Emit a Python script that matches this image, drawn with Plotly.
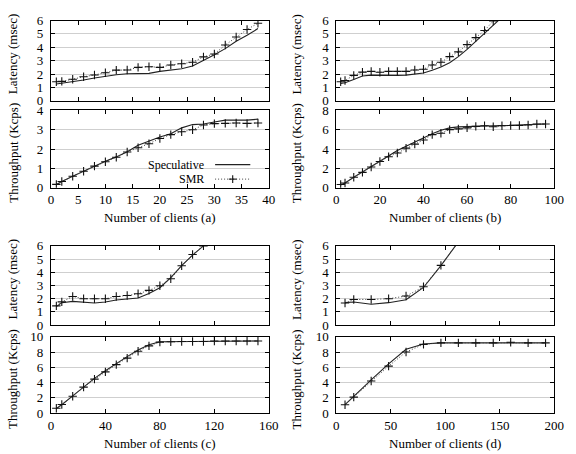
import plotly.graph_objects as go

# ---------------- data ----------------
A_X = [1, 2, 4, 6, 8, 10, 12, 14, 16, 18, 20, 22, 24, 26, 28, 30, 32, 34, 36, 38]
A_LAT_SPEC = [1.25, 1.3, 1.4, 1.55, 1.7, 1.85, 1.95, 2.02, 2.05, 2.05, 2.2, 2.3, 2.4, 2.6, 3.0, 3.45, 3.9, 4.45, 4.9, 5.4]
A_LAT_SMR = [1.42, 1.45, 1.61, 1.8, 1.93, 2.1, 2.29, 2.3, 2.5, 2.55, 2.5, 2.68, 2.77, 2.88, 3.28, 3.5, 4.17, 4.77, 5.33, 5.8]
A_THR_SPEC = [0.17, 0.33, 0.6, 0.87, 1.12, 1.37, 1.6, 1.87, 2.2, 2.43, 2.63, 2.8, 3.1, 3.27, 3.3, 3.4, 3.5, 3.5, 3.5, 3.55]
A_THR_SMR = [0.18, 0.33, 0.6, 0.86, 1.12, 1.35, 1.58, 1.85, 2.07, 2.28, 2.55, 2.75, 2.9, 3.0, 3.25, 3.32, 3.33, 3.35, 3.33, 3.35]

B_X = [2, 4, 8, 12, 16, 20, 24, 28, 32, 36, 40, 44, 48, 52, 56, 60, 64, 68, 72, 76, 80, 84, 88, 92, 96]
B_LAT_X = [2, 4, 8, 12, 16, 20, 24, 28, 32, 36, 40, 44, 48, 52, 56, 60, 64, 68, 72, 76]
B_LAT_SPEC = [1.3, 1.35, 1.6, 1.85, 1.92, 1.9, 1.88, 1.9, 1.92, 1.99, 2.08, 2.28, 2.52, 2.85, 3.3, 3.85, 4.45, 5.05, 5.65, 6.25]
B_LAT_SMR = [1.42, 1.52, 1.9, 2.14, 2.2, 2.13, 2.2, 2.2, 2.2, 2.3, 2.36, 2.68, 2.88, 3.3, 3.66, 4.2, 4.72, 5.25, 5.97, 6.6]
B_THR_SPEC = [0.3, 0.5, 1.1, 1.65, 2.2, 2.8, 3.35, 3.85, 4.3, 4.75, 5.2, 5.6, 5.95, 6.2, 6.3, 6.35, 6.38, 6.4, 6.42, 6.45, 6.48, 6.5, 6.55, 6.58, 6.6]
B_THR_SMR = [0.35, 0.5, 1.1, 1.6, 2.15, 2.72, 3.22, 3.6, 4.1, 4.52, 4.95, 5.5, 5.65, 6.02, 6.1, 6.2, 6.35, 6.42, 6.32, 6.42, 6.45, 6.45, 6.5, 6.6, 6.6]

C_X = [4, 8, 16, 24, 32, 40, 48, 56, 64, 72, 80, 88, 96, 104, 112, 120, 128, 136, 144, 152]
C_LAT_X = [4, 8, 16, 24, 32, 40, 48, 56, 64, 72, 80, 88, 96, 104, 112]
C_LAT_SPEC = [1.4, 1.7, 1.8, 1.75, 1.68, 1.75, 1.9, 1.98, 2.05, 2.4, 2.83, 3.6, 4.5, 5.3, 6.0]
C_LAT_SMR = [1.46, 1.76, 2.17, 2.0, 2.0, 2.0, 2.17, 2.24, 2.37, 2.63, 2.98, 3.51, 4.49, 5.34, 6.0]
C_THR_SPEC = [0.6, 1.1, 2.25, 3.45, 4.55, 5.55, 6.5, 7.4, 8.25, 8.95, 9.35, 9.37, 9.4, 9.4, 9.4, 9.45, 9.45, 9.45, 9.45, 9.45]
C_THR_SMR = [0.63, 1.13, 2.2, 3.4, 4.45, 5.4, 6.35, 7.2, 8.1, 8.8, 9.3, 9.35, 9.37, 9.37, 9.37, 9.45, 9.45, 9.45, 9.45, 9.45]

D_X = [8, 16, 32, 48, 64, 80, 96, 112, 128, 144, 160, 176, 192]
D_LAT_X = [8, 16, 32, 48, 64, 80, 96, 112]
D_LAT_SPEC = [1.7, 1.75, 1.58, 1.7, 1.92, 2.85, 4.5, 6.3]
D_LAT_SMR = [1.67, 1.94, 1.94, 2.0, 2.2, 2.9, 4.52, 6.3]
D_THR_SPEC = [1.1, 2.2, 4.35, 6.45, 8.35, 9.05, 9.2, 9.2, 9.2, 9.2, 9.25, 9.2, 9.2]
D_THR_SMR = [1.1, 2.1, 4.2, 6.15, 8.0, 9.0, 9.2, 9.2, 9.2, 9.2, 9.28, 9.2, 9.2]

PANEL_LABELS = ["a", "b", "c", "d"]
X_RANGES = [(0, 40, 5), (0, 100, 20), (0, 160, 40), (0, 200, 50)]
THR_RANGES = [(0, 4, 1), (0, 8, 2), (0, 10, 2), (0, 10, 2)]
LAT_RANGE = (0, 6, 1)

# ---------------- layout constants ----------------
W, H = 576, 454
FONT = "Times New Roman, Liberation Serif, DejaVu Serif, serif"
XDOM = [[49 / W, 272 / W], [341 / W, 564 / W]]
def ydom(top_px, bot_px):
    return [1 - bot_px / H, 1 - top_px / H]
ROWS = [  # (lat domain, thr domain)
    (ydom(14, 97), ydom(107, 187)),
    (ydom(247, 329), ydom(341, 420)),
]

panels = [
    (A_X, A_X, A_LAT_SPEC, A_LAT_SMR, A_THR_SPEC, A_THR_SMR),
    (B_LAT_X, B_X, B_LAT_SPEC, B_LAT_SMR, B_THR_SPEC, B_THR_SMR),
    (C_LAT_X, C_X, C_LAT_SPEC, C_LAT_SMR, C_THR_SPEC, C_THR_SMR),
    (D_LAT_X, D_X, D_LAT_SPEC, D_LAT_SMR, D_THR_SPEC, D_THR_SMR),
]

fig = go.Figure()
layout = {}
annotations = []

SMR_DASH = "1px,2px"
spec_line = dict(color="#222222", width=1.1)
smr_line = dict(color="#444444", width=1, dash=SMR_DASH)
smr_marker = dict(symbol="cross-thin", size=6, line=dict(color="#111111", width=1.1), color="#111111")

def axis_common():
    return dict(showline=True, linecolor="black", linewidth=1, mirror="allticks",
                ticks="inside", ticklen=4, tickwidth=1, tickcolor="black",
                zeroline=False, tickfont=dict(family=FONT, size=13, color="black"))

for i, (lat_x, thr_x, lat_spec, lat_smr, thr_spec, thr_smr) in enumerate(panels):
    r, c = divmod(i, 2)
    xd = XDOM[c]
    lat_dom, thr_dom = ROWS[r]
    n_lat = 2 * i + 1
    n_thr = 2 * i + 2
    x0, x1, dx = X_RANGES[i]
    t0, t1, dt = THR_RANGES[i]

    for n, dom, (y0, y1, dy), showlab in [(n_lat, lat_dom, LAT_RANGE, False), (n_thr, thr_dom, (t0, t1, dt), True)]:
        xa = axis_common()
        xa.update(domain=xd, range=[x0, x1], tickmode="linear", tick0=x0, dtick=dx,
                  showgrid=False, showticklabels=showlab, anchor=f"y{n}")
        ya = axis_common()
        ya.update(domain=dom, range=[y0, y1], tickmode="linear", tick0=y0, dtick=dy,
                  showgrid=True, gridcolor="#cfcfcf", gridwidth=1, anchor=f"x{n}",
                  ticklabelstandoff=4)
        layout[f"xaxis{n}"] = xa
        layout[f"yaxis{n}"] = ya

    for n, xs, sp, sm in [(n_lat, lat_x, lat_spec, lat_smr), (n_thr, thr_x, thr_spec, thr_smr)]:
        fig.add_trace(go.Scatter(x=xs, y=sp, mode="lines", line=spec_line,
                                 xaxis=f"x{n}", yaxis=f"y{n}", showlegend=False, name="Speculative"))
        fig.add_trace(go.Scatter(x=xs, y=sm, mode="lines+markers", line=smr_line, marker=smr_marker,
                                 xaxis=f"x{n}", yaxis=f"y{n}", showlegend=False, name="SMR"))

    # axis titles
    xl = 10 / W if c == 0 else 300 / W
    lat_center = 1 - (49 if r == 0 else 282) / H
    thr_center = 1 - (151 if r == 0 else 385) / H
    annotations.append(dict(text="Latency (msec)", x=xl, y=lat_center, xref="paper", yref="paper",
                            textangle=-90, showarrow=False, xanchor="center", yanchor="middle",
                            font=dict(family=FONT, size=13, color="black")))
    annotations.append(dict(text="Throughput (Kcps)", x=xl, y=thr_center, xref="paper", yref="paper",
                            textangle=-90, showarrow=False, xanchor="center", yanchor="middle",
                            font=dict(family=FONT, size=13, color="black")))
    xt_y = 1 - (218 if r == 0 else 451) / H
    annotations.append(dict(text=f"Number of clients ({PANEL_LABELS[i]})", x=(xd[0] + xd[1]) / 2, y=xt_y,
                            xref="paper", yref="paper", showarrow=False, xanchor="center", yanchor="middle",
                            font=dict(family=FONT, size=13, color="black")))

# ---------------- legend (gnuplot style: text left, sample right) ----------------
lw = 223.0
lh = 80.0
lx_text = (208 - 49) / lw
lx0 = (217 - 49) / lw
lx1 = (253 - 49) / lw
ly_spec = (187 - 163) / lh
ly_smr = (187 - 178) / lh
mx = (235 - 49) / lw
annotations.append(dict(text="Speculative", x=lx_text, y=ly_spec, xref="x2 domain", yref="y2 domain",
                        showarrow=False, xanchor="right", yanchor="middle",
                        font=dict(family=FONT, size=12, color="black")))
annotations.append(dict(text="SMR", x=lx_text, y=ly_smr, xref="x2 domain", yref="y2 domain",
                        showarrow=False, xanchor="right", yanchor="middle",
                        font=dict(family=FONT, size=12, color="black")))
shapes = [
    dict(type="line", xref="x2 domain", yref="y2 domain", x0=lx0, x1=lx1, y0=ly_spec, y1=ly_spec,
         line=dict(color="#222222", width=1.1)),
    dict(type="line", xref="x2 domain", yref="y2 domain", x0=lx0, x1=lx1, y0=ly_smr, y1=ly_smr,
         line=dict(color="#444444", width=1, dash=SMR_DASH)),
    dict(type="line", xref="x2 domain", yref="y2 domain", x0=mx - 4 / lw, x1=mx + 4 / lw, y0=ly_smr, y1=ly_smr,
         line=dict(color="#111111", width=1.1)),
    dict(type="line", xref="x2 domain", yref="y2 domain", x0=mx, x1=mx, y0=ly_smr - 4 / lh, y1=ly_smr + 4 / lh,
         line=dict(color="#111111", width=1.1)),
]

fig.update_layout(
    width=W, height=H, margin=dict(l=0, r=0, t=0, b=0),
    paper_bgcolor="white", plot_bgcolor="white",
    font=dict(family=FONT, size=13, color="black"),
    annotations=annotations, shapes=shapes, showlegend=False,
    **layout,
)

fig.write_html("out.html")
